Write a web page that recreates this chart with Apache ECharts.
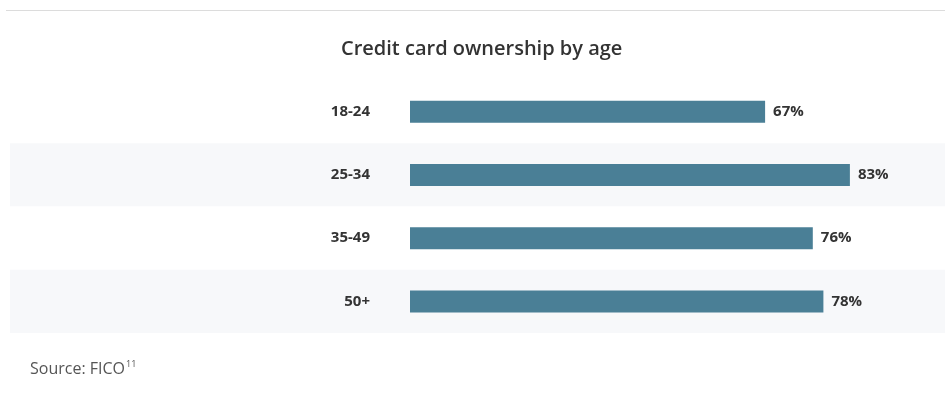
<!DOCTYPE html>
<html>
<head>
<meta charset="utf-8">
<script src="https://cdn.jsdelivr.net/npm/echarts@6/dist/echarts.min.js"></script>
<style>
  html, body { margin: 0; padding: 0; background: #fff; }
  #main { width: 945px; height: 393px; }
</style>
</head>
<body>
<div id="main"></div>
<script>
// credit card ownership by age
var ageGroups = ['18-24', '25-34', '35-49', '50+'];
var ownership = [67, 83, 76, 78];

var font = '"Open Sans", "Noto Sans", sans-serif';

var chart = echarts.init(document.getElementById('main'));

var option = {
  animation: false,
  backgroundColor: '#fff',
  title: [
    {
      text: 'Credit card ownership by age',
      left: 336,
      top: 34,
      textStyle: { fontFamily: font, fontSize: 20, fontWeight: 600, color: '#333' }
    },
    {
      text: '{a|Source: FICO}{b|11}',
      left: 25,
      top: 355,
      textStyle: {
        fontWeight: 'normal',
        rich: {
          a: { fontFamily: font, fontSize: 16, fontWeight: 'normal', color: '#555' },
          b: { fontFamily: font, fontSize: 9, fontWeight: 'normal', color: '#555', verticalAlign: 'top', padding: [0, 0, 9, 1] }
        }
      }
    }
  ],
  graphic: [
    // thin rule at the top of the card
    { type: 'rect', left: 6, top: 10, shape: { width: 939, height: 1 }, style: { fill: '#dcdcdc' }, silent: true }
  ],
  grid: [
    // background bands spanning the whole row width
    { left: 10, right: 0, top: 80, height: 253 },
    // the bars
    { left: 410, right: 5, top: 80, height: 253 }
  ],
  xAxis: [
    { gridIndex: 0, type: 'value', show: false, min: 0, max: 1 },
    { gridIndex: 1, type: 'value', min: 0, max: 100, show: false }
  ],
  yAxis: [
    {
      gridIndex: 0,
      type: 'category',
      data: ageGroups,
      inverse: true,
      axisLine: { show: false },
      axisTick: { show: false },
      axisLabel: { show: false },
      splitArea: { show: true, areaStyle: { color: ['#ffffff', '#f7f8fa'] } }
    },
    {
      gridIndex: 1,
      type: 'category',
      data: ageGroups,
      inverse: true,
      axisLine: { show: false },
      axisTick: { show: false },
      axisLabel: { margin: 40, fontFamily: font, fontSize: 15, fontWeight: 'bold', color: '#333' }
    }
  ],
  series: [
    {
      type: 'bar',
      xAxisIndex: 1,
      yAxisIndex: 1,
      data: ownership,
      barWidth: 22,
      itemStyle: { color: '#4a7f96' },
      label: {
        show: true,
        position: 'right',
        distance: 8,
        formatter: '{c}%',
        fontFamily: font,
        fontSize: 15,
        fontWeight: 'bold',
        color: '#333'
      }
    }
  ]
};

chart.setOption(option);
</script>
</body>
</html>
